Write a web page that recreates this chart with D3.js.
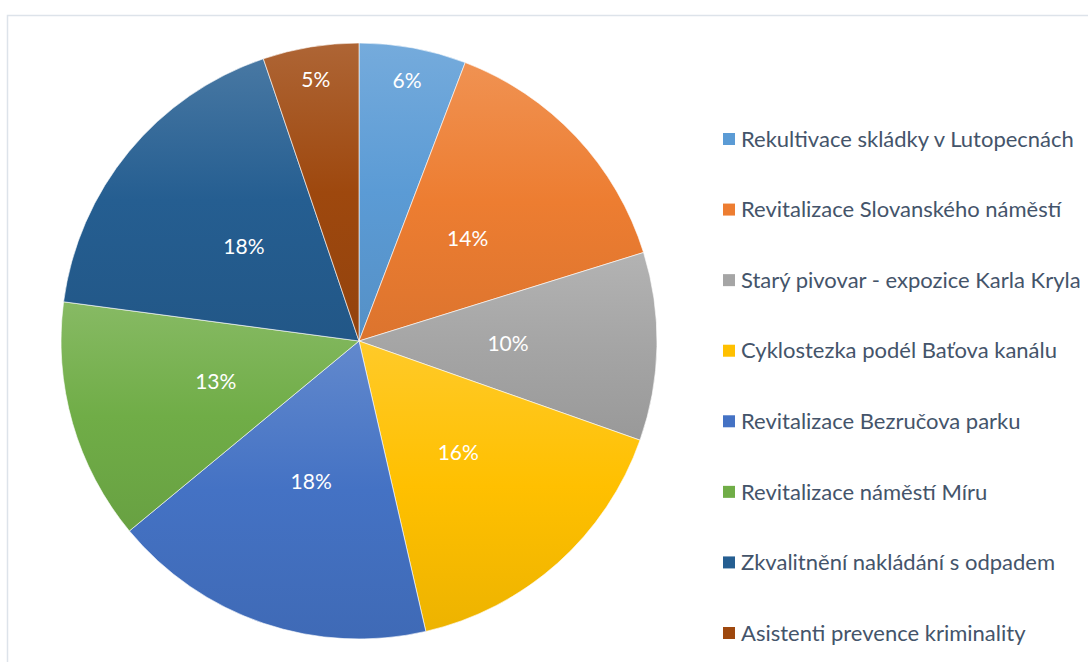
<!DOCTYPE html>
<html>
<head>
    <meta charset="utf-8">
    <title>Pie chart</title>
    <script src="https://d3js.org/d3.v7.min.js" charset="utf-8"></script>
</head>
<body>
    <style>
        html,
        body {
            margin: 0;
            padding: 0;
            background: #fff;
        }
    </style>
    <div id="chart"></div>
    <script>

// chart data
const projects = [
    "Rekultivace skládky v Lutopecnách",
    "Revitalizace Slovanského náměstí",
    "Starý pivovar - expozice Karla Kryla",
    "Cyklostezka podél Baťova kanálu",
    "Revitalizace Bezručova parku",
    "Revitalizace náměstí Míru",
    "Zkvalitnění nakládání s odpadem",
    "Asistenti prevence kriminality"
];
const shares = [5.8, 14.4, 10.2, 16.0, 17.6, 13.1, 17.7, 5.2];
const labels = ["6%", "14%", "10%", "16%", "18%", "13%", "18%", "5%"];
const colors = ["#5B9BD5", "#ED7D31", "#A5A5A5", "#FFC000", "#4472C4", "#70AD47", "#255E91", "#9E480E"];

const width = 1088;
const height = 662;
const cx = 359, cy = 341, radius = 298;

const svg = d3.select("#chart").append("svg")
    .attr("width", width)
    .attr("height", height);

// light frame round the chart area
svg.append("rect")
    .attr("x", 7.5)
    .attr("y", 15.5)
    .attr("width", width)
    .attr("height", height)
    .attr("fill", "none")
    .attr("stroke", "#dde3ea")
    .attr("stroke-width", 1.5);

// office-like gradients: tint at top, base in the middle, shade at bottom
const defs = svg.append("defs");
colors.forEach(function (c, i) {
    const g = defs.append("linearGradient")
        .attr("id", "grad" + i)
        .attr("x1", 0).attr("y1", 0)
        .attr("x2", 0).attr("y2", 1);
    g.append("stop").attr("offset", "0%").attr("stop-color", d3.interpolateRgb(c, "#ffffff")(0.16));
    g.append("stop").attr("offset", "50%").attr("stop-color", c);
    g.append("stop").attr("offset", "100%").attr("stop-color", d3.interpolateRgb(c, "#000000")(0.07));
});

const pie = d3.pie().sort(null).value(function (d) { return d; });
const arcs = pie(shares);

const arc = d3.arc().innerRadius(0).outerRadius(radius);

const g = svg.append("g")
    .attr("transform", "translate(" + cx + "," + cy + ")");

g.selectAll("path")
    .data(arcs)
    .enter().append("path")
    .attr("d", arc)
    .attr("fill", function (d, i) { return "url(#grad" + i + ")"; })
    .attr("stroke", "#ffffff")
    .attr("stroke-width", 0.6);

// small slices get their label pushed outward
const total = d3.sum(shares);
g.selectAll("text")
    .data(arcs)
    .enter().append("text")
    .attr("transform", function (d) {
        const r = d.value / total < 0.08 ? radius * 0.89 : radius * 0.5;
        const a = (d.startAngle + d.endAngle) / 2;
        return "translate(" + (Math.sin(a) * r) + "," + (-Math.cos(a) * r) + ")";
    })
    .attr("dy", "0.35em")
    .attr("text-anchor", "middle")
    .attr("fill", "#ffffff")
    .attr("font-family", "Lato, 'Open Sans', sans-serif")
    .attr("font-size", 21)
    .text(function (d, i) { return labels[i]; });

// legend
const legendY = d3.scalePoint()
    .domain(projects)
    .range([139, 633]);

const legend = svg.append("g")
    .selectAll("g")
    .data(projects)
    .enter().append("g")
    .attr("transform", function (d) { return "translate(723," + legendY(d) + ")"; });

legend.append("rect")
    .attr("x", 0)
    .attr("y", -6)
    .attr("width", 12)
    .attr("height", 12)
    .attr("fill", function (d, i) { return colors[i]; });

legend.append("text")
    .attr("x", 18)
    .attr("dy", "0.35em")
    .attr("fill", "#44546A")
    .attr("font-family", "Lato, 'Open Sans', sans-serif")
    .attr("font-size", 22)
    .text(function (d) { return d; });

    </script>
</body>
</html>
